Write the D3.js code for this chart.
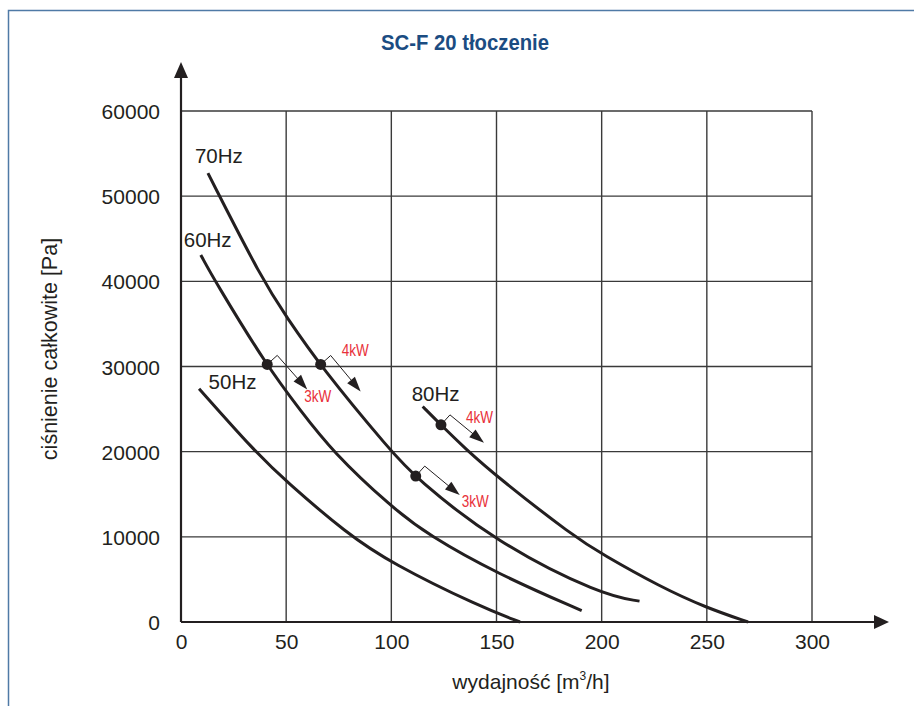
<!DOCTYPE html>
<html>
<head>
<meta charset="utf-8">
<script src="https://cdn.jsdelivr.net/npm/d3@7"></script>
<style>
  html, body { margin: 0; padding: 0; background: #fff; }
  svg { display: block; font-family: "Liberation Sans", Arial, sans-serif; }
</style>
</head>
<body>
<svg id="chart" width="914" height="706"></svg>
<script>
// ---- data ----
const title = "SC-F 20 tłoczenie";
const xTicks = [0, 50, 100, 150, 200, 250, 300];
const yTicks = [0, 10000, 20000, 30000, 40000, 50000, 60000];
const seriesNames = ["50Hz", "60Hz", "70Hz", "80Hz"];
const hz50 = [[8.6, 27400], [35.2, 20000], [50, 16500], [78.8, 10400], [100, 6900], [142, 1800], [161.2, 0]];
const hz60 = [[9.4, 43100], [16.2, 40000], [41, 30000], [56.6, 24900], [72, 20000], [100, 13500], [117.6, 10200], [150, 5700], [190.5, 1330]];
const hz70 = [[12.8, 52700], [39, 40000], [50, 35900], [66.4, 30000], [100, 20000], [111.6, 16900], [150, 9300], [200, 3150], [218, 2450]];
const hz80 = [[114.9, 25300], [123.6, 23130], [135, 20400], [150, 17100], [187, 10000], [200, 8000], [227.7, 4150], [250, 1650], [269.6, 0]];
const markerSeries = [1, 2, 2, 3];           // index into seriesNames
const markerQ = [41, 66.4, 111.6, 123.6];
const markerLabels = ["3kW", "4kW", "3kW", "4kW"];

// ---- layout / style ----
const svg = d3.select("#chart");
const x = d3.scaleLinear().domain([0, 300]).range([181, 812]);
const y = d3.scaleLinear().domain([0, 60000]).range([622, 111]);
const ink = "#231f20";
const FONT = '"Liberation Sans", Arial, sans-serif';

// frame
svg.append("rect").attr("x", 8.5).attr("y", 10.5).attr("width", 1000).attr("height", 1000)
  .attr("fill", "none").attr("stroke", "#4f7aa6").attr("stroke-width", 1.5);

// title
svg.append("text").attr("x", 465).attr("y", 50).attr("text-anchor", "middle")
  .attr("font-size", 22).attr("font-weight", "bold").attr("fill", "#1b4c82")
  .attr("textLength", 168).attr("lengthAdjust", "spacingAndGlyphs")
  .text(title);

// grid
const grid = svg.append("g");
grid.selectAll("line.v").data(xTicks.slice(1)).join("line")
  .attr("x1", d => x(d)).attr("x2", d => x(d)).attr("y1", y(60000)).attr("y2", y(0))
  .attr("stroke", "#3a3a3a").attr("stroke-width", 1.4);
grid.selectAll("line.h").data(yTicks.slice(1)).join("line")
  .attr("x1", x(0)).attr("x2", x(300)).attr("y1", d => y(d)).attr("y2", d => y(d))
  .attr("stroke", "#3a3a3a").attr("stroke-width", 1.4);

// axes with d3 axis generators (labels only)
const xAxis = d3.axisBottom(x).tickValues(xTicks).tickSize(0).tickPadding(12).tickFormat(d3.format("d"));
const yAxis = d3.axisLeft(y).tickValues(yTicks).tickSize(0).tickPadding(21).tickFormat(d3.format("d"));
const gx = svg.append("g").attr("transform", `translate(0,${y(0)})`).call(xAxis);
const gy = svg.append("g").attr("transform", `translate(${x(0)},0)`).call(yAxis);
[gx, gy].forEach(g => {
  g.select(".domain").remove();
  g.selectAll("text").attr("font-size", 21).attr("fill", ink).attr("font-family", FONT);
});
gx.selectAll("text").attr("dy", "0.71em");
gy.selectAll("text").attr("dy", "0.36em");

// axis lines with arrows
svg.append("line").attr("x1", x(0)).attr("x2", 876).attr("y1", y(0)).attr("y2", y(0))
  .attr("stroke", ink).attr("stroke-width", 2.2);
svg.append("path").attr("d", `M874,${y(0) - 7}L889,${y(0)}L874,${y(0) + 7}Z`).attr("fill", ink);
svg.append("line").attr("x1", x(0)).attr("x2", x(0)).attr("y1", y(0)).attr("y2", 76)
  .attr("stroke", ink).attr("stroke-width", 2.2);
svg.append("path").attr("d", `M${x(0) - 7},78L${x(0)},62L${x(0) + 7},78Z`).attr("fill", ink);

// axis titles
const xt = svg.append("text").attr("x", 531).attr("y", 689).attr("text-anchor", "middle")
  .attr("font-size", 21).attr("fill", ink);
xt.append("tspan").text("wydajność [m");
xt.append("tspan").attr("font-size", 12).attr("dy", -9).text("3");
xt.append("tspan").attr("dy", 9).text("/h]");
svg.append("text").attr("transform", "translate(57,349) rotate(-90)").attr("text-anchor", "middle")
  .attr("font-size", 21.5).attr("fill", ink).text("ciśnienie całkowite [Pa]");

// curves
const seriesData = [hz50, hz60, hz70, hz80];
const line = d3.line().x(d => x(d[0])).y(d => y(d[1])).curve(d3.curveBasis);
const curves = svg.append("g").selectAll("path").data(seriesData).join("path")
  .attr("d", line).attr("fill", "none").attr("stroke", ink).attr("stroke-width", 3);

// curve labels (anchored relative to each curve's first point)
const labelOffsets = [[9.5, 0], [-17, -8], [-13, -10], [-11, -6]];
svg.append("g").selectAll("text").data(seriesNames).join("text")
  .attr("x", (d, i) => x(seriesData[i][0][0]) + labelOffsets[i][0])
  .attr("y", (d, i) => y(seriesData[i][0][1]) + labelOffsets[i][1])
  .attr("font-size", 20.5).attr("fill", ink).text(d => d);

// find the pixel y of a drawn curve at a pixel x
function curveYAt(node, px) {
  let lo = 0, hi = node.getTotalLength();
  for (let k = 0; k < 40; k++) {
    const mid = (lo + hi) / 2;
    if (node.getPointAtLength(mid).x < px) lo = mid; else hi = mid;
  }
  return node.getPointAtLength((lo + hi) / 2).y;
}

// power markers
const geom = [
  { c: [10, -9], t: [40, 25], l: [37, 38] },
  { c: [10, -9], t: [40, 27], l: [21, -8] },
  { c: [9, -10], t: [44, 19], l: [46, 31] },
  { c: [9, -10], t: [43, 18], l: [25, -2] }
];
const curveNodes = curves.nodes();
const mg = svg.append("g");
markerQ.forEach((q, i) => {
  const px = x(q), py = curveYAt(curveNodes[markerSeries[i]], px);
  const g = geom[i];
  const cx = px + g.c[0], cy = py + g.c[1];
  const tx = px + g.t[0], ty = py + g.t[1];
  const dx = tx - cx, dy = ty - cy, len = Math.hypot(dx, dy);
  const ux = dx / len, uy = dy / len;
  const hl = 15, hw = 5;
  const bx = tx - ux * hl, by = ty - uy * hl;
  mg.append("path").attr("d", `M${px},${py}L${cx},${cy}L${bx + ux * 2},${by + uy * 2}`)
    .attr("fill", "none").attr("stroke", ink).attr("stroke-width", 1);
  mg.append("path")
    .attr("d", `M${tx},${ty}L${bx - uy * hw},${by + ux * hw}L${bx + uy * hw},${by - ux * hw}Z`)
    .attr("fill", ink);
  mg.append("circle").attr("cx", px).attr("cy", py).attr("r", 5.5).attr("fill", ink);
  mg.append("text").attr("x", px + g.l[0]).attr("y", py + g.l[1])
    .attr("font-size", 17).attr("fill", "#e8303a")
    .attr("textLength", 27).attr("lengthAdjust", "spacingAndGlyphs")
    .text(markerLabels[i]);
});
</script>
</body>
</html>
